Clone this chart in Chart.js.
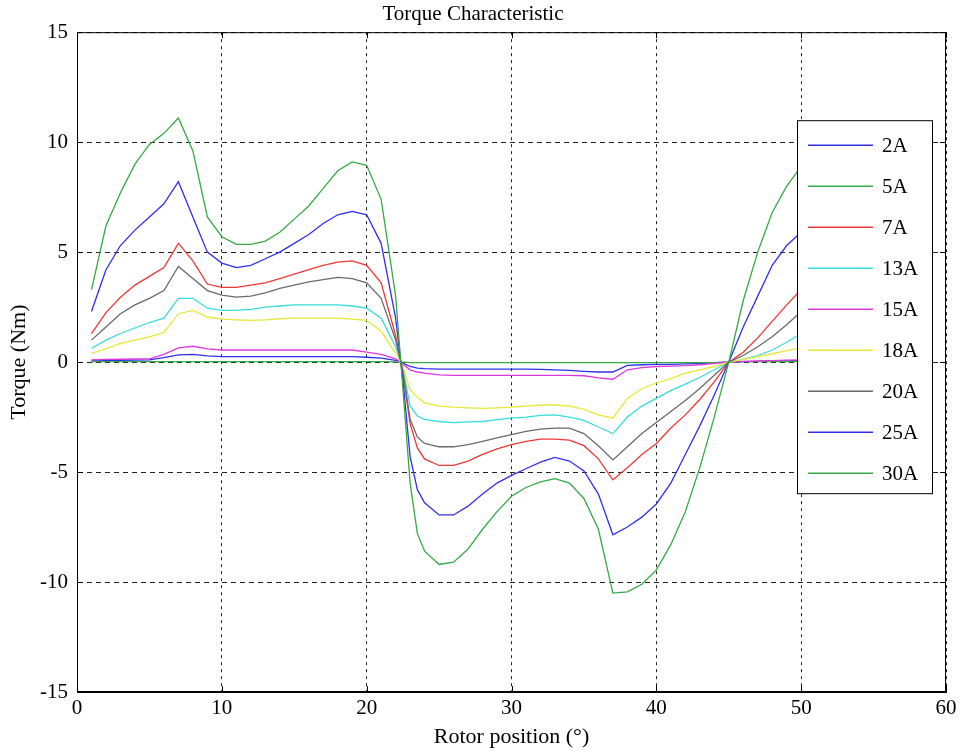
<!DOCTYPE html>
<html lang="en">
<head>
<meta charset="UTF-8">
<title>Torque Characteristic</title>
<script src="https://cdn.jsdelivr.net/npm/chart.js"></script>
<style>
  body { margin: 0; background: #fff; }
  .wrap { width: 961px; height: 751px; position: relative; }
</style>
</head>
<body>
<div class="wrap"><canvas id="torqueChart"></canvas></div>
<script>
// rotor position in degrees
const positions = [1,2,3,4,5,6,7,8,9,10,11,12,13,14,15,16,17,18,19,20,21,22,22.5,23,23.5,
  24,25,26,27,28,29,30,31,32,33,34,35,36,37,38,39,40,41,42,43,44,45,46,47,48,49,50];

const seriesLabels = ['2A', '5A', '7A', '13A', '15A', '18A', '20A', '25A', '30A'];

const torque2A = [0.05,0.07,0.08,0.09,0.1,0.2,0.33,0.35,0.28,0.25,0.25,0.25,0.25,0.25,0.25,0.25,0.25,0.25,0.25,0.22,0.18,0.08,
  -0.05,-0.2,-0.27,
  -0.3,-0.32,-0.32,-0.32,-0.32,-0.32,-0.32,-0.32,-0.33,-0.35,-0.38,-0.42,-0.45,-0.45,-0.15,-0.12,-0.1,-0.1,-0.08,-0.06,-0.03,0,0.02,0.03,0.05,0.06,0.08];
const torque5A = [0.02,0.02,0.02,0.02,0.02,0.02,0.02,0.02,0.02,0.02,0.02,0.02,0.02,0.02,0.02,0.02,0.02,0.02,0.02,0.02,0.02,0.01,
  0,-0.02,-0.02,
  -0.02,-0.02,-0.02,-0.02,-0.02,-0.02,-0.02,-0.02,-0.02,-0.02,-0.02,-0.02,-0.02,-0.02,-0.02,-0.02,-0.02,-0.02,-0.02,-0.02,-0.02,0,0.02,0.02,0.02,0.02,0.02];
const torque7A = [1.3,2.25,2.95,3.5,3.9,4.3,5.4,4.6,3.55,3.4,3.4,3.5,3.6,3.8,4.0,4.2,4.4,4.55,4.6,4.4,3.6,1.2,
  -0.5,-2.8,-3.9,
  -4.4,-4.7,-4.7,-4.5,-4.2,-3.95,-3.75,-3.6,-3.5,-3.5,-3.55,-3.8,-4.4,-5.35,-4.8,-4.2,-3.7,-3.0,-2.4,-1.7,-0.9,0,0.45,1.1,1.85,2.6,3.3];
const torque13A = [0.63,1.0,1.3,1.55,1.8,2.0,2.9,2.9,2.45,2.35,2.35,2.4,2.5,2.55,2.6,2.6,2.6,2.6,2.55,2.45,2.0,0.7,
  -0.3,-2.0,-2.45,
  -2.6,-2.7,-2.75,-2.72,-2.7,-2.62,-2.55,-2.5,-2.42,-2.4,-2.5,-2.65,-2.95,-3.25,-2.5,-2.0,-1.65,-1.3,-1.0,-0.7,-0.35,0,0.12,0.3,0.55,0.9,1.3];
const torque15A = [0.1,0.12,0.13,0.14,0.15,0.35,0.65,0.72,0.6,0.55,0.55,0.55,0.55,0.55,0.55,0.55,0.55,0.55,0.55,0.45,0.35,0.15,
  -0.1,-0.35,-0.45,
  -0.5,-0.58,-0.6,-0.6,-0.6,-0.6,-0.6,-0.6,-0.6,-0.6,-0.6,-0.62,-0.72,-0.78,-0.35,-0.25,-0.2,-0.18,-0.16,-0.12,-0.06,0,0.03,0.05,0.07,0.09,0.1];
const torque18A = [0.4,0.6,0.85,1.0,1.15,1.35,2.2,2.35,2.05,1.95,1.92,1.9,1.92,1.97,2.0,2.0,2.0,2.0,1.95,1.9,1.4,0.4,
  -0.2,-1.25,-1.6,
  -1.85,-2.0,-2.05,-2.08,-2.1,-2.08,-2.05,-2.0,-1.95,-1.95,-2.0,-2.15,-2.4,-2.55,-1.65,-1.2,-0.95,-0.75,-0.5,-0.35,-0.2,0,0.12,0.25,0.38,0.52,0.65];
const torque20A = [1.0,1.6,2.2,2.6,2.9,3.25,4.35,3.8,3.25,3.05,2.95,3.0,3.15,3.35,3.5,3.65,3.75,3.85,3.8,3.6,2.9,1.0,
  -0.4,-2.6,-3.4,
  -3.7,-3.85,-3.85,-3.75,-3.6,-3.45,-3.3,-3.15,-3.05,-3.0,-3.0,-3.25,-3.8,-4.45,-3.85,-3.25,-2.75,-2.25,-1.75,-1.2,-0.6,0,0.3,0.7,1.15,1.7,2.3];
const torque25A = [2.3,4.2,5.3,6.0,6.6,7.2,8.2,6.6,5.0,4.5,4.3,4.4,4.7,5.0,5.4,5.8,6.3,6.7,6.85,6.7,5.4,2.0,
  -0.8,-4.3,-5.8,
  -6.4,-6.95,-6.95,-6.55,-6.0,-5.5,-5.15,-4.85,-4.55,-4.33,-4.5,-4.95,-6.0,-7.85,-7.5,-7.05,-6.45,-5.5,-4.2,-2.9,-1.5,0,1.6,3.0,4.4,5.3,5.9];
const torque30A = [3.3,6.2,7.7,9.0,9.9,10.4,11.1,9.6,6.6,5.7,5.35,5.35,5.5,5.9,6.5,7.1,7.9,8.7,9.1,8.95,7.4,3.0,
  -1.2,-5.5,-7.8,
  -8.6,-9.2,-9.1,-8.5,-7.6,-6.8,-6.1,-5.7,-5.45,-5.3,-5.5,-6.2,-7.6,-10.5,-10.45,-10.1,-9.45,-8.3,-6.8,-4.8,-2.5,0,2.8,5.0,6.8,8.0,8.9];

const xTicks = [0, 10, 20, 30, 40, 50, 60];
const yTicks = [-15, -10, -5, 0, 5, 10, 15];

const allSeries = [torque2A, torque5A, torque7A, torque13A, torque15A, torque18A, torque20A, torque25A, torque30A];
const lineColors = ['#3030ee', '#35aa45', '#ee3838', '#38dcdc', '#dc38dc', '#e8e83a', '#6a6a6a', '#3030ee', '#35aa45'];

const serif = "'Liberation Serif', 'DejaVu Serif', serif";

const datasets = allSeries.map((vals, i) => ({
    label: seriesLabels[i],
    data: vals.map((v, k) => ({ x: positions[k], y: v })),
    borderColor: lineColors[i],
    borderWidth: 1.3,
    pointRadius: 0,
    tension: 0,
    fill: false,
    order: allSeries.length - i   // later currents drawn on top, like the original
}));

// box around the plot, inward tick marks and the boxed legend
const frameAndLegend = {
    id: 'frameAndLegend',
    afterDatasetsDraw(chart) {
        const { ctx, chartArea: a, scales } = chart;
        ctx.save();
        ctx.strokeStyle = '#000';
        ctx.lineWidth = 1;
        ctx.strokeRect(a.left + 0.5, a.top + 0.5, a.right - a.left - 1, a.bottom - a.top - 1);

        ctx.beginPath();
        xTicks.forEach(t => {
            const px = Math.round(scales.x.getPixelForValue(t)) + 0.5;
            ctx.moveTo(px, a.bottom); ctx.lineTo(px, a.bottom - 6);
            ctx.moveTo(px, a.top); ctx.lineTo(px, a.top + 6);
        });
        yTicks.forEach(t => {
            const py = Math.round(scales.y.getPixelForValue(t)) + 0.5;
            ctx.moveTo(a.left, py); ctx.lineTo(a.left + 6, py);
            ctx.moveTo(a.right, py); ctx.lineTo(a.right - 6, py);
        });
        ctx.stroke();

        // legend
        const w = 135, h = 373;
        const bx = a.right - 14 - w, by = a.top + 88;
        ctx.fillStyle = '#fff';
        ctx.fillRect(bx, by, w, h);
        ctx.strokeRect(bx + 0.5, by + 0.5, w, h);
        ctx.font = '21px ' + serif;
        ctx.textBaseline = 'middle';
        chart.data.datasets.forEach((ds, i) => {
            const y = by + 25 + i * 41;
            ctx.strokeStyle = ds.borderColor;
            ctx.lineWidth = 1.5;
            ctx.beginPath();
            ctx.moveTo(bx + 11, y); ctx.lineTo(bx + 76, y);
            ctx.stroke();
            ctx.fillStyle = '#000';
            ctx.fillText(ds.label, bx + 85, y + 1);
        });
        ctx.restore();
    }
};

new Chart(document.getElementById('torqueChart'), {
    type: 'line',
    data: { datasets },
    options: {
        responsive: true,
        maintainAspectRatio: false,
        animation: false,
        layout: { padding: { left: 0, right: 15, top: 0, bottom: 0 } },
        plugins: {
            legend: { display: false },
            tooltip: { enabled: false },
            title: {
                display: true,
                text: 'Torque Characteristic',
                color: '#000',
                font: { family: serif, size: 21, weight: 'normal' },
                padding: { top: 2, bottom: 5 }
            }
        },
        scales: {
            x: {
                type: 'linear',
                min: 0,
                max: 60,
                afterBuildTicks: s => { s.ticks = xTicks.map(v => ({ value: v })); },
                afterFit: s => { s.height = 59; },
                ticks: { color: '#000', font: { family: serif, size: 21 }, padding: 4, maxRotation: 0 },
                grid: { color: '#222', lineWidth: 1, drawTicks: false },
                border: { display: true, color: '#000', dash: [3, 4] },
                title: {
                    display: true,
                    text: 'Rotor position (°)',
                    color: '#000',
                    font: { family: serif, size: 22 },
                    padding: { top: 0, bottom: 1 }
                }
            },
            y: {
                min: -15,
                max: 15,
                afterBuildTicks: s => { s.ticks = yTicks.map(v => ({ value: v })); },
                afterFit: s => { s.width = 77; },
                ticks: { color: '#000', font: { family: serif, size: 21 }, padding: 9 },
                grid: { color: '#222', lineWidth: 1, drawTicks: false },
                border: { display: true, color: '#000', dash: [5, 4] },
                title: {
                    display: true,
                    text: 'Torque (Nm)',
                    color: '#000',
                    font: { family: serif, size: 22 },
                    padding: { top: 6, bottom: 0 }
                }
            }
        }
    },
    plugins: [frameAndLegend]
});
</script>
</body>
</html>
